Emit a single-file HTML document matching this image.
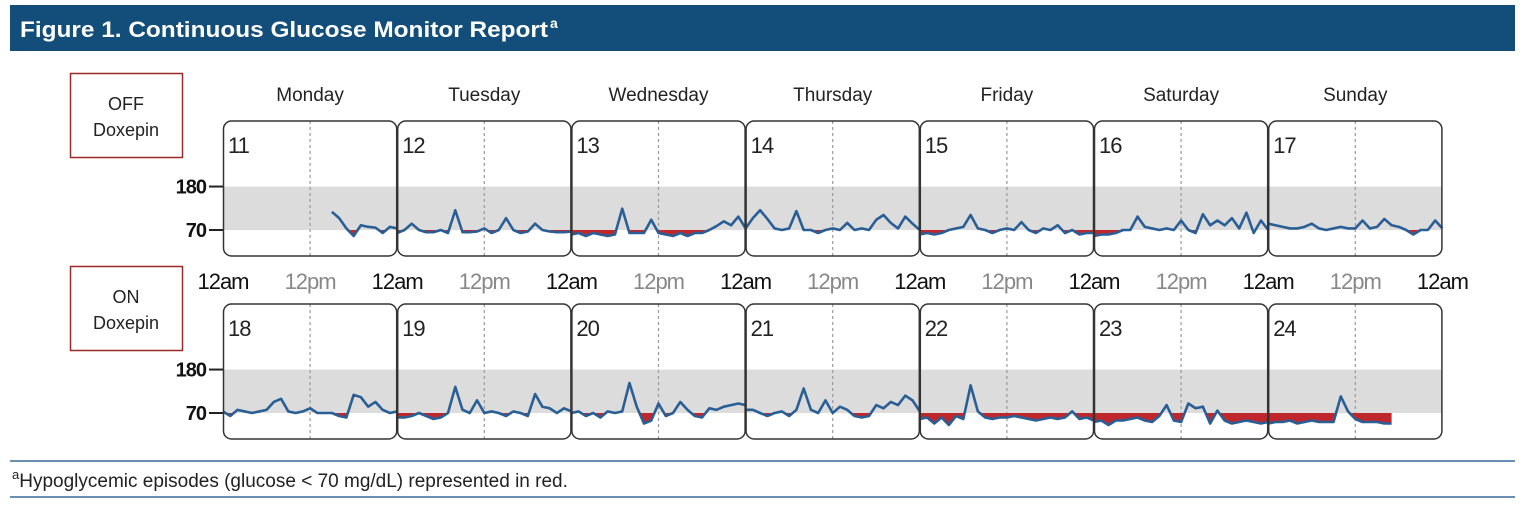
<!DOCTYPE html>
<html><head><meta charset="utf-8"><style>
html,body{margin:0;padding:0;background:#fff;}
svg{display:block;font-family:"Liberation Sans",sans-serif;}
.n{font-family:"Liberation Sans Narrow","Liberation Sans",sans-serif;letter-spacing:-1px;}
</style></head><body>
<svg id="chart" width="1536" height="527" viewBox="0 0 1536 527">
<rect x="10" y="5" width="1505" height="46" fill="#134e7a"/>
<text x="20" y="37" fill="#fff" font-size="22" font-weight="bold" textLength="528" lengthAdjust="spacingAndGlyphs">Figure 1. Continuous Glucose Monitor Report</text>
<text x="550" y="28" fill="#fff" font-size="14" font-weight="bold">a</text>
<g>
<rect x="70.5" y="73.5" width="112" height="84" fill="#fff" stroke="#9b2b2b" stroke-width="1.5"/>
<text x="126" y="110" text-anchor="middle" font-size="18" fill="#222">OFF</text>
<text x="126" y="136" text-anchor="middle" font-size="18" fill="#222">Doxepin</text>
</g>
<g>
<rect x="70.5" y="266.5" width="112" height="84" fill="#fff" stroke="#9b2b2b" stroke-width="1.5"/>
<text x="126" y="303" text-anchor="middle" font-size="18" fill="#222">ON</text>
<text x="126" y="329" text-anchor="middle" font-size="18" fill="#222">Doxepin</text>
</g>
<g id="plots"></g>
<line x1="10" y1="461" x2="1515" y2="461" stroke="#3a6a9a" stroke-width="1.5"/>
<line x1="10" y1="497" x2="1515" y2="497" stroke="#3a6a9a" stroke-width="1.5"/>
<text x="12" y="487" font-size="19" fill="#222"><tspan font-size="13" dy="-8">a</tspan><tspan dy="8">Hypoglycemic episodes (glucose &lt; 70 mg/dL) represented in red.</tspan></text>
</svg>
<script>
const dayNames = ["Monday","Tuesday","Wednesday","Thursday","Friday","Saturday","Sunday"];
const offDates = [11,12,13,14,15,16,17];
const onDates = [18,19,20,21,22,23,24];
const yTicks = [180,70];
const N = null;
const offValues = [
 [N,N,N,N,N,N,N,N,N,N,N,N,N,N,N,116,100,74,62,82,78,76,66,78,74],
 [66,70,86,70,67,67,70,66,120,67,67,68,74,66,70,100,70,66,68,86,70,68,67,67,68],
 [64,66,62,66,64,62,64,124,66,66,66,96,66,64,62,66,62,66,66,70,80,92,82,104,74],
 [74,100,120,98,74,70,74,118,70,70,66,70,74,70,88,70,74,70,96,108,88,74,104,86,70],
 [64,66,64,66,70,74,78,108,74,70,66,70,74,70,90,70,66,74,70,82,66,70,64,66,66],
 [62,64,64,66,70,70,104,78,74,70,74,70,94,70,66,110,82,94,82,100,74,114,66,94,70],
 [86,82,78,74,74,78,86,74,70,74,78,74,74,94,74,78,98,82,78,70,64,70,70,94,74]
];
const onValues = [
 [74,66,78,74,70,74,78,98,106,74,70,74,82,70,70,70,66,64,116,110,86,98,78,70,74],
 [64,64,66,70,66,62,64,70,136,78,70,102,70,74,70,66,74,70,66,118,86,82,70,82,74],
 [70,74,66,70,64,74,70,74,146,86,56,60,94,66,70,98,78,66,64,82,78,86,90,94,90],
 [78,78,70,66,70,74,66,78,132,78,70,102,70,86,78,66,64,66,90,82,98,90,114,102,74],
 [62,64,56,64,54,66,62,140,74,64,62,64,64,66,64,62,60,62,64,62,64,74,62,64,60],
 [58,60,54,60,60,62,64,60,58,66,90,60,58,94,82,86,56,76,60,56,58,60,58,56,58],
 [56,58,58,60,56,58,60,58,58,58,112,74,62,58,58,58,56,56,N,N,N,N,N,N,N]
];
const hours = Array.from({length:25},(_,i)=>i);
const NS = "http://www.w3.org/2000/svg";
const root = document.getElementById('plots');
const panelX0 = 223, panelW = 174.2;
function mk(tag, attrs, parent){const e=document.createElementNS(NS,tag);for(const k in attrs)e.setAttribute(k,attrs[k]);(parent||root).appendChild(e);return e;}
function yScale(row, v){const y70 = row===0?230:413;return v>=70 ? y70-(v-70)*0.395 : y70+(70-v)*0.75;}
function xScale(d, h){return panelX0+d*panelW+h/24*panelW;}

dayNames.forEach((nm,d)=>{
 const t=mk('text',{x:panelX0+d*panelW+panelW/2,y:101,'text-anchor':'middle','font-size':19,fill:'#222'});
 
 
 t.textContent=nm;
});
for(let d=0;d<=7;d++){
 const t=mk('text',{x:panelX0+d*panelW,y:289,'text-anchor':'middle','font-size':22,fill:'#111',class:'n'});
 
 
 t.textContent='12am';
 if(d<7){
  const p=mk('text',{x:panelX0+d*panelW+panelW/2,y:289,'text-anchor':'middle','font-size':22,fill:'#888',class:'n'});
  
  
  p.textContent='12pm';
 }
}
function drawRow(row, dates, values){
 const top = row===0?121:304, bot = row===0?256:439;
 yTicks.forEach(v=>{
  const y=yScale(row,v);
  const t=mk('text',{x:206,y:y+7,'text-anchor':'end','font-size':20,'font-weight':'bold',fill:'#111',class:'n'});
  
  
  t.textContent=v;
  const l=mk('line',{x1:209,x2:223,y1:y,y2:y,stroke:'#222','stroke-width':2});
  
  
 });
 dates.forEach((dt,d)=>{
  const x0=panelX0+d*panelW;
  const g=mk('g',{});
  
  
  const cid='clip'+row+'_'+d;
  const cp=mk('clipPath',{id:cid},g);
  mk('rect',{x:x0,y:yScale(row,70),width:panelW,height:bot-yScale(row,70)},cp);
  const band=mk('rect',{x:x0,y:yScale(row,180),width:panelW,height:yScale(row,70)-yScale(row,180),fill:'#dcdcdc'},g);
  
  
  const ml=mk('line',{x1:x0+panelW/2,x2:x0+panelW/2,y1:top,y2:bot,stroke:'#999','stroke-dasharray':'3,3','stroke-width':1.2},g);
  
  
  const vals=values[d];
  const pts=[];
  hours.forEach(h=>{if(vals[h]!==null)pts.push([xScale(d,h),yScale(row,vals[h])]);});
  if(pts.length){
   const y70=yScale(row,70);
   let a='M'+pts[0][0]+','+y70+' '+pts.map(p=>'L'+p[0]+','+p[1]).join(' ')+' L'+pts[pts.length-1][0]+','+y70+'Z';
   const area=mk('path',{d:a,fill:'#c0272d','clip-path':'url(#'+cid+')'},g);
   
   
   const ln=mk('path',{d:'M'+pts.map(p=>p[0]+','+p[1]).join(' L'),fill:'none',stroke:'#2a5f96','stroke-width':2.6,'stroke-linejoin':'round'},g);
   
   
  }
  const bx=mk('rect',{x:x0+0.5,y:top,width:panelW-1,height:bot-top,rx:8,fill:'none',stroke:'#333','stroke-width':1.5},g);
  
  
  const lb=mk('text',{x:x0+5,y:top+32,'font-size':22,fill:'#222',class:'n'},g);
  
  
  lb.textContent=dt;
 });
}
drawRow(0, offDates, offValues);
drawRow(1, onDates, onValues);
</script>
</body></html>
